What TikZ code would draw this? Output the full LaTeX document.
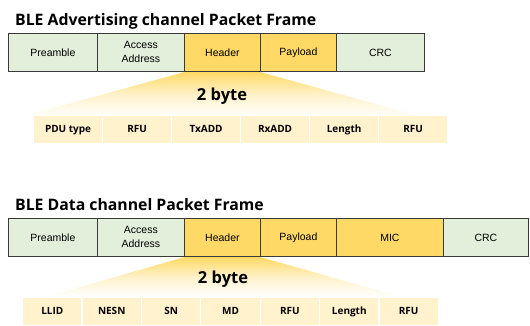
\documentclass[tikz,border=0pt]{standalone}
\usepackage{fontspec}
\setmainfont{Liberation Sans}
\newfontfamily\osans{Open Sans}
\definecolor{grn}{HTML}{E2EFDA}
\definecolor{ylw}{HTML}{FFD966}
\definecolor{lyl}{HTML}{FFF2CC}
\definecolor{bord}{HTML}{3A3A3A}
\begin{document}
\begin{tikzpicture}[x=1pt,y=-1pt,
  fbox/.style={draw=bord, line width=0.8pt, anchor=north west, minimum height=38pt,
    inner sep=0pt, align=center, font=\fontsize{10.5}{14}\selectfont},
  gbox/.style={fbox, fill=grn},
  ybox/.style={fbox, fill=ylw},
  cell/.style={fill=lyl, draw=white, line width=1.2pt, anchor=north west, minimum height=28pt,
    inner sep=0pt, text height=7.5pt, text depth=2.3pt, font=\osans\bfseries\fontsize{10}{12}\selectfont},
  ttl/.style={anchor=base west, inner sep=0pt, font=\osans\bfseries\fontsize{15.8}{18}\selectfont},
  bytes/.style={anchor=base, inner sep=0pt, font=\osans\bfseries\fontsize{16.5}{18}\selectfont}]
\useasboundingbox (0,0) rectangle (530,325);
% ---------- Advertising ----------
\node[ttl] (t1) at (15,25) {BLE Advertising channel Packet Frame};
\fill[black!35] (9,34) rectangle (425,72);
\node[gbox, minimum width=89pt] (a1) at (8,33) {Preamble};
\node[gbox, minimum width=87pt] (a2) at (97,33) {Access\\Address};
\node[ybox, minimum width=76pt] (a3) at (184,33) {Header};
\node[ybox, minimum width=76pt] (a4) at (260,33) {Payload};
\node[gbox, minimum width=88pt] (a5) at (336,33) {CRC};
\coordinate (a3l) at (20,117);
\coordinate (a3r) at (416,115);
\shade[top color=ylw, bottom color=white, middle color=ylw!35] ([yshift=-0.4pt]a3.south west) -- ([yshift=-0.4pt]a3.south east) -- (a3r) -- (a3l) -- cycle;
\node[bytes] (b1) at (222,100) {2 byte};
\foreach \t [count=\i from 0] in {PDU type,RFU,TxADD,RxADD,Length,RFU}
  \node[cell, minimum width=69pt] (p\i) at ({33+69*\i},115) {\t};
% ---------- Data ----------
\node[ttl] (t2) at (15,210) {BLE Data channel Packet Frame};
\fill[black!35] (9,219) rectangle (529,257);
\node[gbox, minimum width=89pt] (d1) at (8,218) {Preamble};
\node[gbox, minimum width=87pt] (d2) at (97,218) {Access\\Address};
\node[ybox, minimum width=76pt] (d3) at (184,218) {Header};
\node[ybox, minimum width=76pt] (d4) at (260,218) {Payload};
\node[ybox, minimum width=107pt] (d5) at (336,218) {MIC};
\node[gbox, minimum width=85pt] (d6) at (443,218) {CRC};
\coordinate (d3l) at (45,297);
\coordinate (d3r) at (398,296);
\shade[top color=ylw, bottom color=white, middle color=ylw!35] ([yshift=-0.4pt]d3.south west) -- ([yshift=-0.4pt]d3.south east) -- (d3r) -- (d3l) -- cycle;
\node[bytes] (b2) at (223,283) {2 byte};
\foreach \t [count=\i from 0] in {LLID,NESN,SN,MD,RFU,Length,RFU}
  \node[cell, minimum width=59.4pt] (q\i) at ({22+59.4*\i},297) {\t};
\end{tikzpicture}
\end{document}
